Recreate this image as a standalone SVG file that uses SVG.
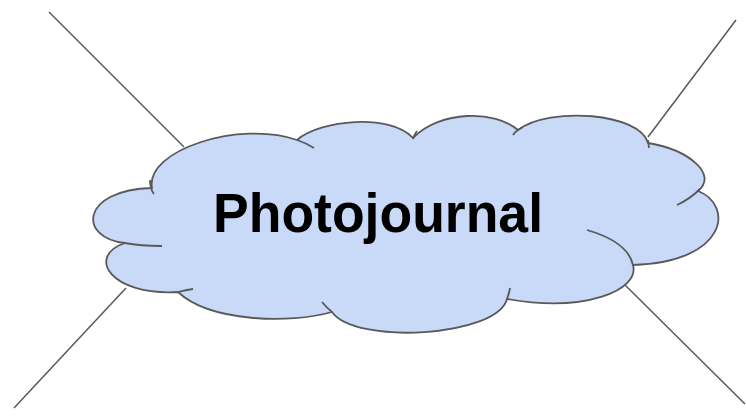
<svg xmlns="http://www.w3.org/2000/svg" width="746" height="416" viewBox="0 0 746 416">
<style>
.ln{stroke:#595959;stroke-width:1.5;fill:none}
.cl{fill:#c9daf8;stroke:#595959;stroke-width:1.8}
.tk{fill:none;stroke:#595959;stroke-width:1.8}
.lbl{font-family:"Liberation Sans",Arial,sans-serif;font-weight:bold;font-size:56px;fill:#000}
</style>
<rect width="746" height="416" fill="#fff"/>
<g id="connectors">
<line class="ln" x1="49" y1="12" x2="184" y2="147"/>
<line class="ln" x1="736" y1="20" x2="648" y2="137"/>
<line class="ln" x1="14" y1="408" x2="126" y2="288"/>
<line class="ln" x1="624" y1="284" x2="745" y2="404"/>
</g>
<g id="cloud">
<path class="cl" d="M152,188 C145,150 240,120 297,140 C320,120 390,113 413,138 C440,110 495,110 518,130 C550,106 640,113 648,143 C690,150 718,175 698,191 C734,205 728,262 633,265 C640,290 585,313 507,299 C497,337 355,345 332,312 C290,324 210,322 178,292 C110,296 86,256 125,243 C78,238 80,190 152,188 Z"/>
<path class="tk" d="M150,180 Q150,189 154,194"/>
<path class="tk" d="M297,140 Q306,143 314,148"/>
<path class="tk" d="M417,131 Q414,135 413,139"/>
<path class="tk" d="M518,130 Q521,128 523,127"/>
<path class="tk" d="M518,130 Q515,132 513,135"/>
<path class="tk" d="M648,140 L649,148"/>
<path class="tk" d="M700,189 Q690,199 677,205"/>
<path class="tk" d="M587,230 Q628,242 633,265"/>
<path class="tk" d="M510,288 Q509,294 507,299"/>
<path class="tk" d="M322,302 Q327,308 332,312"/>
<path class="tk" d="M178,292 Q186,290 193,289"/>
<path class="tk" d="M125,243 Q140,246 162,246"/>
<text class="lbl" x="378" y="232" text-anchor="middle" textLength="330" lengthAdjust="spacingAndGlyphs">Photojournal</text>
</g>
</svg>
